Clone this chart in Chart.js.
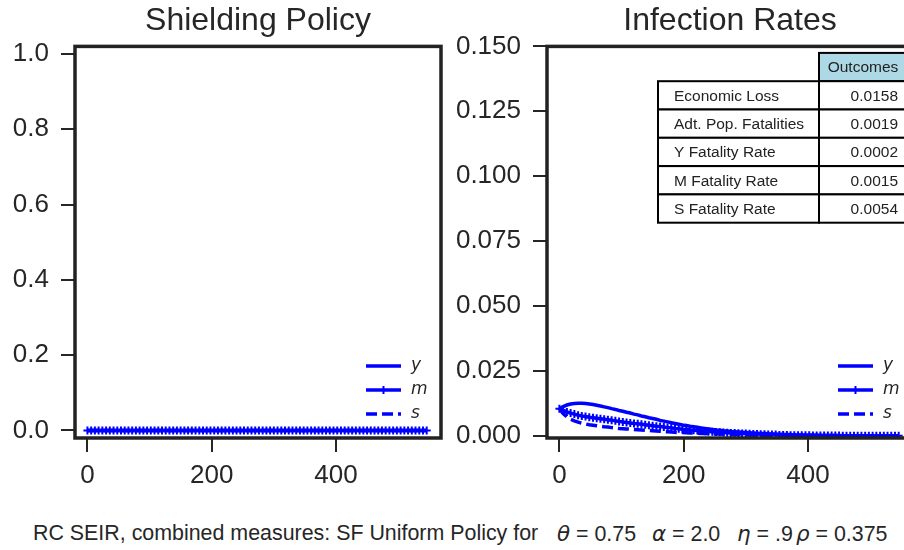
<!DOCTYPE html>
<html>
<head>
<meta charset="utf-8">
<script src="https://cdn.jsdelivr.net/npm/chart.js@4.4.1/dist/chart.umd.min.js"></script>
<style>
  html, body { margin: 0; padding: 0; background: #fff; }
  body { width: 904px; height: 550px; overflow: hidden; position: relative;
         font-family: "Liberation Sans", Arial, sans-serif; color: #262626; }
  #left { position: absolute; left: 0; top: 0; }
  #right { position: absolute; left: 452px; top: 0; }
  .cap { position: absolute; top: 523px; font-size: 21.4px; line-height: 21px; white-space: nowrap; }
  .cap i { font-family: "DejaVu Sans"; font-style: oblique; }
</style>
</head>
<body>
<canvas id="left" width="447" height="500"></canvas>
<canvas id="right" width="467" height="500"></canvas>
<div class="cap" style="left:33px">RC SEIR, combined measures: SF Uniform Policy for</div>
<div class="cap" style="left:557px"><i>θ</i> = 0.75</div>
<div class="cap" style="left:652px"><i>α</i> = 2.0</div>
<div class="cap" style="left:737px"><i>η</i> = .9</div>
<div class="cap" style="left:796px"><i>ρ</i> = 0.375</div>
<script>
// time grid (days)
const days = [
  0, 6, 12, 18, 24, 30, 36, 42, 48, 54, 60, 66, 72, 78, 84, 90, 96, 102, 108, 114,
  120, 126, 132, 138, 144, 150, 156, 162, 168, 174, 180, 186, 192, 198, 204, 210, 216, 222, 228, 234,
  240, 246, 252, 258, 264, 270, 276, 282, 288, 294, 300, 306, 312, 318, 324, 330, 336, 342, 348, 354,
  360, 366, 372, 378, 384, 390, 396, 402, 408, 414, 420, 426, 432, 438, 444, 450, 456, 462, 468, 474,
  480, 486, 492, 498, 504, 510, 516, 522, 528, 534, 540, 546
];

// shielding policy per group (no shielding at all)
const shieldY = [
  0,0,0,0,0,0,0,0,0,0, 0,0,0,0,0,0,0,0,0,0, 0,0,0,0,0,0,0,0,0,0, 0,0,0,0,0,0,0,0,0,0,
  0,0,0,0,0,0,0,0,0,0, 0,0,0,0,0,0,0,0,0,0, 0,0,0,0,0,0,0,0,0,0, 0,0,0,0,0,0,0,0,0,0,
  0,0,0,0,0,0,0,0,0,0, 0,0
];
const shieldM = [
  0,0,0,0,0,0,0,0,0,0, 0,0,0,0,0,0,0,0,0,0, 0,0,0,0,0,0,0,0,0,0, 0,0,0,0,0,0,0,0,0,0,
  0,0,0,0,0,0,0,0,0,0, 0,0,0,0,0,0,0,0,0,0, 0,0,0,0,0,0,0,0,0,0, 0,0,0,0,0,0,0,0,0,0,
  0,0,0,0,0,0,0,0,0,0, 0,0
];
const shieldS = [
  0,0,0,0,0,0,0,0,0,0, 0,0,0,0,0,0,0,0,0,0, 0,0,0,0,0,0,0,0,0,0, 0,0,0,0,0,0,0,0,0,0,
  0,0,0,0,0,0,0,0,0,0, 0,0,0,0,0,0,0,0,0,0, 0,0,0,0,0,0,0,0,0,0, 0,0,0,0,0,0,0,0,0,0,
  0,0,0,0,0,0,0,0,0,0, 0,0
];

// infection rates per group
const infY = [
  0.0105, 0.0113, 0.0119, 0.0123, 0.0125, 0.0126, 0.0126, 0.0125, 0.0123, 0.0121,
  0.0118, 0.0115, 0.0112, 0.0109, 0.0105, 0.0102, 0.0098, 0.0095, 0.0091, 0.0088,
  0.0084, 0.0081, 0.0077, 0.0074, 0.0070, 0.0067, 0.0064, 0.0060, 0.0057, 0.0054,
  0.0051, 0.0048, 0.0045, 0.0042, 0.0040, 0.0037, 0.0035, 0.0033, 0.0031, 0.0029,
  0.0027, 0.0025, 0.0023, 0.0022, 0.0020, 0.0019, 0.0017, 0.0016, 0.0015, 0.0014,
  0.0013, 0.0012, 0.0011, 0.0010, 0.0009, 0.0009, 0.0008, 0.0007, 0.0007, 0.0006,
  0.0006, 0.0005, 0.0005, 0.0004, 0.0004, 0.0004, 0.0003, 0.0003, 0.0003, 0.0003,
  0.0002, 0.0002, 0.0002, 0.0002, 0.0002, 0.0001, 0.0001, 0.0001, 0.0001, 0.0001,
  0.0001, 0.0001, 0.0001, 0.0001, 0.0001, 0.0001, 0.0001, 0.0001, 0.0001, 0.0001,
  0.0001, 0.0001
];
const infM = [
  0.0105, 0.0098, 0.0092, 0.0088, 0.0084, 0.0080, 0.0077, 0.0075, 0.0072, 0.0070,
  0.0068, 0.0066, 0.0064, 0.0062, 0.0060, 0.0058, 0.0056, 0.0054, 0.0052, 0.0050,
  0.0048, 0.0047, 0.0045, 0.0043, 0.0041, 0.0039, 0.0037, 0.0036, 0.0034, 0.0032,
  0.0031, 0.0029, 0.0028, 0.0026, 0.0025, 0.0023, 0.0022, 0.0021, 0.0019, 0.0018,
  0.0017, 0.0016, 0.0015, 0.0014, 0.0013, 0.0012, 0.0011, 0.0011, 0.0010, 0.0009,
  0.0009, 0.0008, 0.0007, 0.0007, 0.0006, 0.0006, 0.0005, 0.0005, 0.0005, 0.0004,
  0.0004, 0.0004, 0.0003, 0.0003, 0.0003, 0.0003, 0.0003, 0.0003, 0.0002, 0.0002,
  0.0002, 0.0002, 0.0002, 0.0002, 0.0002, 0.0002, 0.0001, 0.0001, 0.0001, 0.0001,
  0.0001, 0.0001, 0.0001, 0.0001, 0.0001, 0.0001, 0.0001, 0.0001, 0.0001, 0.0001,
  0.0001, 0.0001
];
const infS = [
  0.0105, 0.0086, 0.0073, 0.0064, 0.0058, 0.0053, 0.0049, 0.0046, 0.0043, 0.0041,
  0.0039, 0.0037, 0.0035, 0.0034, 0.0032, 0.0031, 0.0029, 0.0028, 0.0027, 0.0026,
  0.0025, 0.0024, 0.0023, 0.0022, 0.0021, 0.0020, 0.0019, 0.0018, 0.0017, 0.0016,
  0.0015, 0.0014, 0.0013, 0.0013, 0.0012, 0.0011, 0.0011, 0.0010, 0.0009, 0.0009,
  0.0008, 0.0008, 0.0007, 0.0007, 0.0006, 0.0006, 0.0005, 0.0005, 0.0005, 0.0004,
  0.0004, 0.0004, 0.0003, 0.0003, 0.0003, 0.0003, 0.0003, 0.0003, 0.0003, 0.0002,
  0.0002, 0.0002, 0.0002, 0.0002, 0.0002, 0.0002, 0.0002, 0.0002, 0.0002, 0.0002,
  0.0001, 0.0001, 0.0001, 0.0001, 0.0001, 0.0001, 0.0001, 0.0001, 0.0001, 0.0001,
  0.0001, 0.0001, 0.0001, 0.0001, 0.0001, 0.0001, 0.0001, 0.0001, 0.0001, 0.0001,
  0.0001, 0.0001
];

const xTicks = [0, 200, 400];
const shieldTicks = [0, 0.2, 0.4, 0.6, 0.8, 1.0];
const infTicks = [0, 0.025, 0.05, 0.075, 0.1, 0.125, 0.15];

const tableRows = ['Economic Loss', 'Adt. Pop. Fatalities', 'Y Fatality Rate', 'M Fatality Rate', 'S Fatality Rate'];
const tableValues = ['0.0158', '0.0019', '0.0002', '0.0015', '0.0054'];

const ink = '#262626';
const blue = '#0000ff';
const fam = '"Liberation Sans", Arial, sans-serif';

function series(vals) {
  return vals.map((v, i) => ({ x: days[i], y: v }));
}

function groupSets(yv, mv, sv) {
  return [
    { label: 'y', data: series(yv), borderColor: blue, borderWidth: 3.5, pointRadius: 0, order: 3 },
    { label: 'm', data: series(mv), borderColor: blue, borderWidth: 3.5, pointStyle: 'cross',
      pointRadius: 4, pointBorderWidth: 2, pointBorderColor: blue, pointBackgroundColor: blue, order: 2 },
    { label: 's', data: series(sv), borderColor: blue, borderWidth: 3.5, borderDash: [11, 5], pointRadius: 0, order: 1 }
  ];
}

// box round the plot, like matplotlib spines
const frame = {
  id: 'frame',
  afterDatasetsDraw(chart) {
    const { ctx, chartArea: a } = chart;
    ctx.save();
    ctx.strokeStyle = '#222';
    ctx.lineWidth = 3.5;
    ctx.strokeRect(a.left, a.top, a.right - a.left, a.bottom - a.top);
    ctx.restore();
  }
};

// legend in lower right corner of the plot
const groupLegend = {
  id: 'groupLegend',
  afterDraw(chart) {
    const { ctx, chartArea: a } = chart;
    chart.data.datasets.forEach((ds, i) => {
      const yy = a.bottom - 72 + 24 * i;
      const x0 = a.right - 75, x1 = a.right - 40;
      ctx.save();
      ctx.strokeStyle = ds.borderColor;
      ctx.lineWidth = ds.borderWidth;
      ctx.setLineDash(ds.borderDash || []);
      ctx.beginPath();
      ctx.moveTo(x0, yy);
      ctx.lineTo(x1, yy);
      ctx.stroke();
      if (ds.pointStyle === 'cross') {
        const cx = (x0 + x1) / 2, r = ds.pointRadius;
        ctx.setLineDash([]);
        ctx.lineWidth = ds.pointBorderWidth;
        ctx.beginPath();
        ctx.moveTo(cx, yy - r); ctx.lineTo(cx, yy + r);
        ctx.moveTo(cx - r, yy); ctx.lineTo(cx + r, yy);
        ctx.stroke();
      }
      ctx.fillStyle = ink;
      ctx.font = 'oblique 17px "DejaVu Sans"';
      ctx.textBaseline = 'middle';
      ctx.fillText(ds.label, a.right - 30, yy);
      ctx.restore();
    });
  }
};

// outcomes table in the infection plot
const outcomeTable = {
  id: 'outcomeTable',
  afterDraw(chart) {
    const { ctx, chartArea: a } = chart;
    const right = a.right - 6, top = a.top + 6.5, rowH = 28.3, valW = 88, labW = 161;
    const vx = right - valW, lx = vx - labW;
    ctx.save();
    ctx.lineWidth = 2;
    ctx.strokeStyle = '#000';
    ctx.font = '15.5px ' + fam;
    ctx.textBaseline = 'middle';
    ctx.fillStyle = '#add8e6';
    ctx.fillRect(vx, top, valW, rowH);
    ctx.strokeRect(vx, top, valW, rowH);
    ctx.fillStyle = '#222';
    ctx.textAlign = 'center';
    ctx.fillText('Outcomes', vx + valW / 2, top + rowH / 2 + 1);
    tableRows.forEach((r, i) => {
      const yy = top + rowH * (i + 1);
      ctx.fillStyle = '#fff';
      ctx.fillRect(lx, yy, labW + valW, rowH);
      ctx.strokeRect(lx, yy, labW, rowH);
      ctx.strokeRect(vx, yy, valW, rowH);
      ctx.fillStyle = '#222';
      ctx.textAlign = 'left';
      ctx.fillText(r, lx + 16, yy + rowH / 2 + 1);
      ctx.textAlign = 'right';
      ctx.fillText(tableValues[i], right - 9, yy + rowH / 2 + 1);
    });
    ctx.restore();
  }
};

function scales(yMin, yMax, yTicks, digits, yWidth) {
  const grid = { drawOnChartArea: false, drawTicks: true, tickLength: 14, tickWidth: 2, tickColor: ink, color: ink, lineWidth: 2 };
  return {
    x: {
      type: 'linear', min: -20, max: 569,
      afterBuildTicks: s => { s.ticks = xTicks.map(v => ({ value: v })); },
      afterFit: s => { s.height = 62; },
      grid: grid,
      border: { display: false },
      ticks: { color: ink, font: { family: fam, size: 26 }, padding: 8, maxRotation: 0, autoSkip: false,
               callback: v => String(v) }
    },
    y: {
      type: 'linear', min: yMin, max: yMax,
      afterBuildTicks: s => { s.ticks = yTicks.map(v => ({ value: v })); },
      afterFit: s => { s.width = yWidth; },
      grid: grid,
      border: { display: false },
      ticks: { color: ink, font: { family: fam, size: 26 }, padding: 12, autoSkip: false,
               callback: v => Number(v).toFixed(digits) }
    }
  };
}

function options(title, sc) {
  return {
    responsive: false,
    animation: false,
    layout: { padding: { left: 0, right: 2, top: 0, bottom: 0 } },
    plugins: {
      legend: { display: false },
      tooltip: { enabled: false },
      title: { display: true, text: title, fullSize: false, color: ink,
               font: { family: fam, size: 32, weight: 'normal' }, padding: { top: 2, bottom: 6 } }
    },
    scales: sc
  };
}

new Chart(document.getElementById('left'), {
  type: 'line',
  data: { datasets: groupSets(shieldY, shieldM, shieldS) },
  options: options('Shielding Policy', scales(-0.02, 1.02, shieldTicks, 1, 75)),
  plugins: [frame, groupLegend]
});

new Chart(document.getElementById('right'), {
  type: 'line',
  data: { datasets: groupSets(infY, infM, infS) },
  options: options('Infection Rates', scales(-0.0008, 0.15, infTicks, 3, 95)),
  plugins: [frame, groupLegend, outcomeTable]
});
</script>
</body>
</html>
